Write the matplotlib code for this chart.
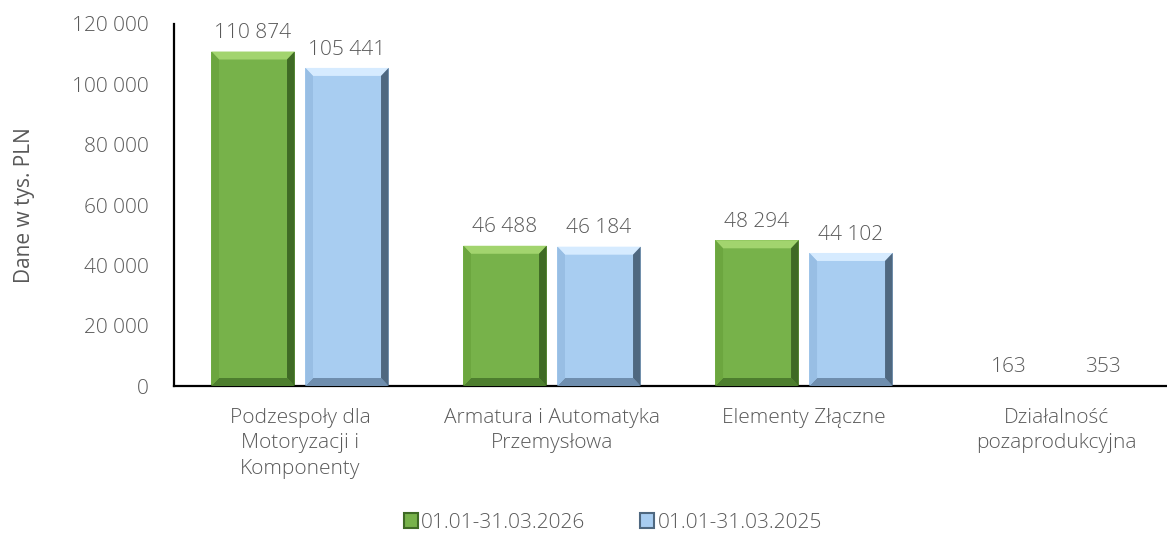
import numpy as np
import matplotlib.pyplot as plt
from matplotlib.patches import Polygon, Rectangle

categories = ["Podzespoły dla\nMotoryzacji i\nKomponenty",
              "Armatura i Automatyka\nPrzemysłowa",
              "Elementy Złączne",
              "Działalność\npozaprodukcyjna"]
series_names = ["01.01-31.03.2026", "01.01-31.03.2025"]
values_2026 = [110874, 46488, 48294, 163]
values_2025 = [105441, 46184, 44102, 353]
yticks = [0, 20000, 40000, 60000, 80000, 100000, 120000]

face = ["#77b24a", "#a8cdf1"]
top_c = ["#a2d46e", "#d6ebff"]
left_c = ["#6ca63f", "#98bee4"]
right_c = ["#3f6a25", "#4f6880"]
bottom_c = ["#4d7e2e", "#6f8eae"]
text_c = "#595959"

plt.rcParams["font.family"] = ["Open Sans", "DejaVu Sans"]
plt.rcParams["font.weight"] = "light"
fs = 15

fig = plt.figure(figsize=(11.67, 5.38), dpi=100)
ax = fig.add_axes([0.1491, 0.2825, 0.8638, 0.6729])

x = np.arange(len(categories))
w = 0.33
gap = 0.043
ymax = 120000
bev_x = 0.03
bev_y = 8 * ymax / 362


def bevel(ax, bar, i):
    x0 = bar.get_x()
    x1 = x0 + bar.get_width()
    h = bar.get_height()
    by = min(bev_y, h / 2)
    bx = bev_x
    polys = [
        ([(x0, h), (x1, h), (x1 - bx, h - by), (x0 + bx, h - by)], top_c[i]),
        ([(x0, 0), (x1, 0), (x1 - bx, by), (x0 + bx, by)], bottom_c[i]),
        ([(x0, 0), (x0 + bx, by), (x0 + bx, h - by), (x0, h)], left_c[i]),
        ([(x1, 0), (x1 - bx, by), (x1 - bx, h - by), (x1, h)], right_c[i]),
    ]
    for pts, c in polys:
        ax.add_patch(Polygon(pts, closed=True, facecolor=c, edgecolor="none", zorder=3))


for i, vals in enumerate([values_2026, values_2025]):
    pos = x + (i - 0.5) * (w + gap)
    bars = ax.bar(pos, vals, width=w, color=face[i], zorder=2, label=series_names[i])
    for b, v in zip(bars, vals):
        if v > 1000:
            bevel(ax, b, i)
        ax.annotate(f"{v:,}".replace(",", " "), (b.get_x() + w / 2, v),
                    xytext=(0, 6), textcoords="offset points",
                    ha="center", va="bottom", fontsize=fs, color=text_c)

ax.set_xlim(-0.5, len(categories) - 0.5)
ax.set_ylim(0, ymax)
ax.set_yticks(yticks)
ax.set_yticklabels([f"{t:,}".replace(",", " ") for t in yticks], fontsize=fs, color=text_c)
ax.set_xticks(x)
ax.set_xticklabels(categories, fontsize=fs, color=text_c, linespacing=1.35)
ax.tick_params(length=0)
ax.tick_params(axis="y", pad=18)
ax.tick_params(axis="x", pad=16)
for s in ["top", "right"]:
    ax.spines[s].set_visible(False)
for s in ["left", "bottom"]:
    ax.spines[s].set_linewidth(1.6)
    ax.spines[s].set_color("black")
ax.set_ylabel("Dane w tys. PLN", fontsize=fs, color=text_c)
ax.yaxis.set_label_coords(-0.138, 0.5)

handles = [Rectangle((0, 0), 1, 1, facecolor=face[i], edgecolor=right_c[i], linewidth=1.5)
           for i in range(2)]
fig.legend(handles, series_names, loc="lower center", bbox_to_anchor=(0.525, -0.025),
           ncol=2, frameon=False, fontsize=fs, labelcolor=text_c,
           handlelength=0.7, handleheight=0.7, handletextpad=0.15, columnspacing=2.6)

fig.savefig("out.png", dpi=100)
